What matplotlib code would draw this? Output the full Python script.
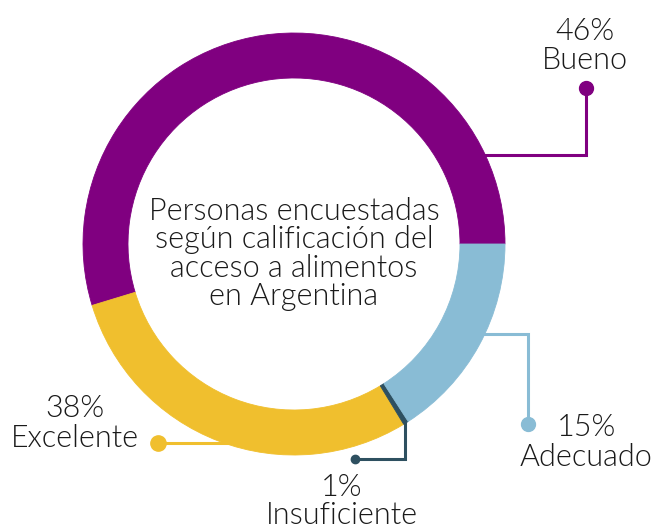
import matplotlib
matplotlib.use("Agg")
import matplotlib.pyplot as plt
import numpy as np

# ---- data ----
categories = ["Bueno", "Excelente", "Insuficiente", "Adecuado"]
percent_labels = [46, 38, 1, 15]            # percentages printed on the chart
arc_shares = [54.7, 29.0, 0.4, 15.9]        # angular share of each arc as drawn
colors = ["#800080", "#F0BF2E", "#2E5060", "#89BCD5"]
center_title = ["Personas encuestadas", "según calificación del",
                "acceso a alimentos", "en Argentina"]

W, H = 655, 529
fig = plt.figure(figsize=(W / 100, H / 100), dpi=100)
ax = fig.add_axes([0, 0, 1, 1])

def Y(y):
    return H - y

cx, cy, R, ring = 294, Y(244), 211, 45
wedges, _ = ax.pie(arc_shares, colors=colors, startangle=0, counterclock=True,
                   center=(cx, cy), radius=R,
                   wedgeprops=dict(width=ring, linewidth=0.6))
for w, c in zip(wedges, colors):
    w.set_edgecolor(c)
ax.set_xlim(0, W)
ax.set_ylim(0, H)
ax.set_aspect("auto")
ax.axis("off")

FONT = ["Lato", "DejaVu Sans"]
TXT = "#1a1a1a"
fs = 22
FW = 300

# centre title
for line, yb in zip(center_title, [220, 248, 277, 305]):
    ax.text(cx, Y(yb), line, ha="center", va="baseline", fontsize=fs,
            family=FONT, fontweight=FW, color=TXT)

def ring_x(ypx, side):
    dy = Y(ypx) - cy
    return cx + side * np.sqrt(R ** 2 - dy ** 2)

lw = 2.2
# Bueno connector
c = colors[0]
ax.plot([ring_x(155, 1) - 4, 586, 586], [Y(155), Y(155), Y(88)], color=c, lw=lw,
        solid_capstyle="butt", solid_joinstyle="miter")
ax.plot(586, Y(88), "o", ms=10, color=c)
# Adecuado connector
c = colors[3]
ax.plot([ring_x(334, 1) - 4, 528, 528], [Y(334), Y(334), Y(424)], color=c, lw=lw,
        solid_joinstyle="miter")
ax.plot(528, Y(424), "o", ms=10, color=c)
# Insuficiente connector
c = colors[2]
ax.plot([405, 405, 355], [Y(421), Y(459), Y(459)], color=c, lw=lw,
        solid_joinstyle="miter")
ax.plot(355, Y(459), "o", ms=6, color=c)
# Excelente connector (goes under the ring)
c = colors[1]
ax.plot([158, 240], [Y(443), Y(443)], color=c, lw=lw, zorder=0)
ax.plot(158, Y(443), "o", ms=11, color=c)

labels_pos = {
    "Bueno": (585, 40, 69),
    "Adecuado": (586, 436, 466),
    "Excelente": (75, 417, 447),
    "Insuficiente": (342, 496, 524),
}
for cat, pct in zip(categories, percent_labels):
    x, y1, y2 = labels_pos[cat]
    ax.text(x, Y(y1), f"{pct}%", ha="center", va="baseline", fontsize=fs,
            family=FONT, fontweight=FW, color=TXT)
    ax.text(x, Y(y2), cat, ha="center", va="baseline", fontsize=fs,
            family=FONT, fontweight=FW, color=TXT)

fig.savefig("out.png", dpi=100)
